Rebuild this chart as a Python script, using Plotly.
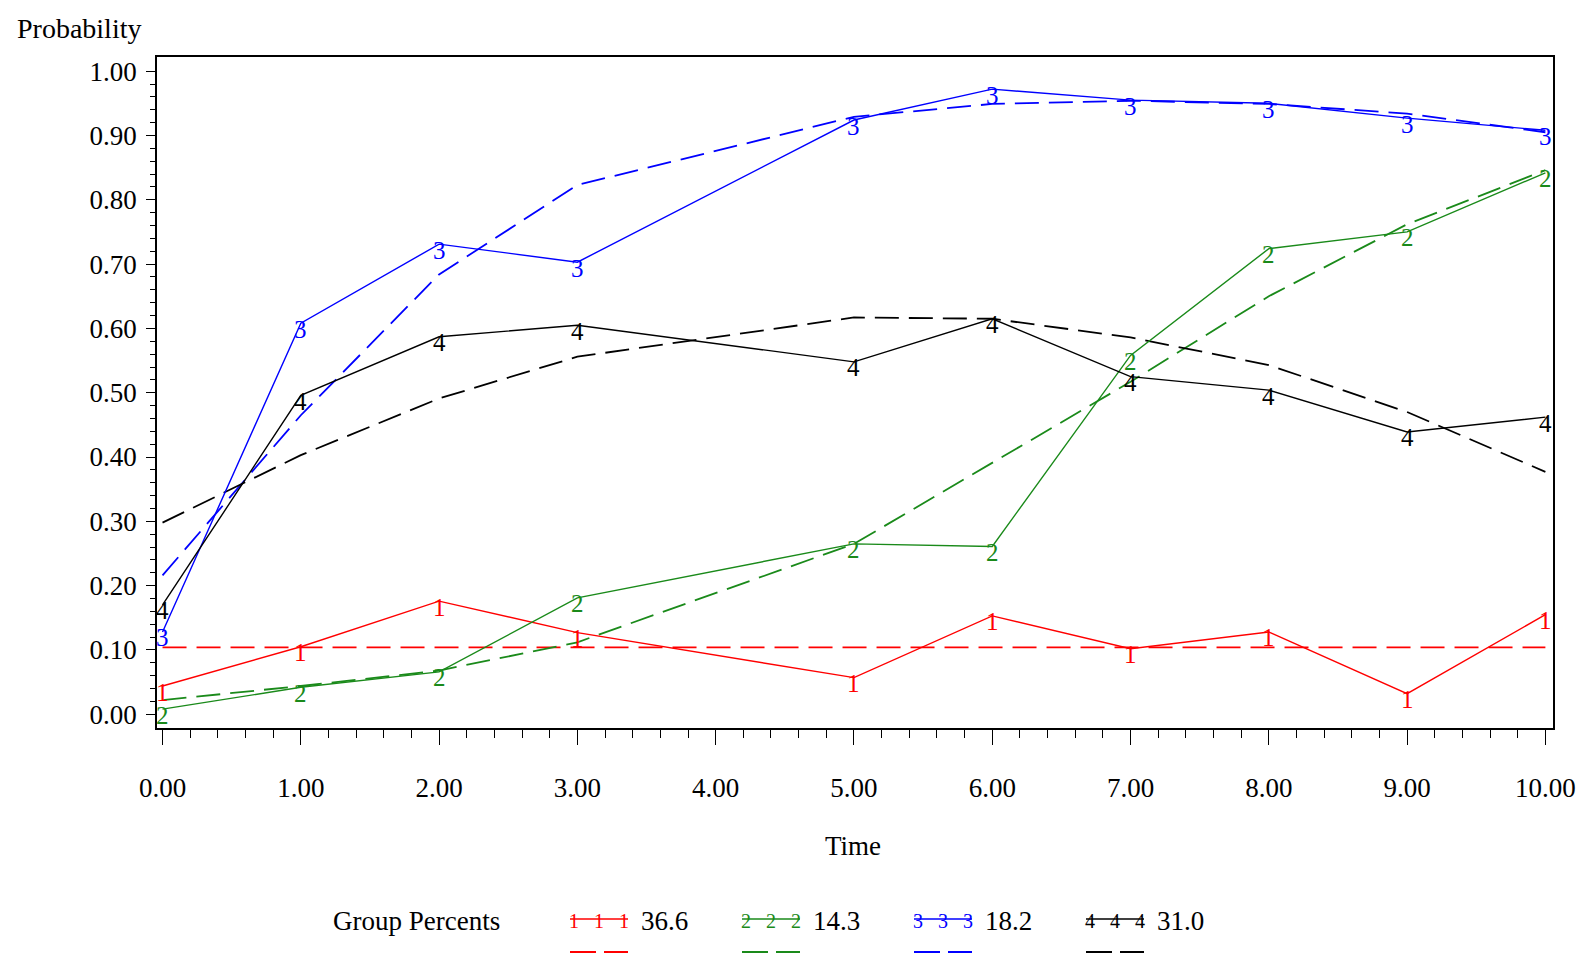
import plotly.graph_objects as go

# ---------------- data ----------------
times = [0, 1, 2, 3, 5, 6, 7, 8, 9, 10]

obs_1 = [0.044, 0.105, 0.176, 0.127, 0.057, 0.153, 0.102, 0.128, 0.032, 0.155]
pred_1 = [0.104, 0.104, 0.104, 0.104, 0.104, 0.104, 0.104, 0.104, 0.104, 0.104]

obs_2 = [0.008, 0.042, 0.066, 0.181, 0.265, 0.261, 0.558, 0.724, 0.750, 0.842]
pred_2 = [0.022, 0.044, 0.068, 0.112, 0.265, 0.391, 0.517, 0.650, 0.762, 0.846]

obs_3 = [0.128, 0.608, 0.731, 0.703, 0.924, 0.972, 0.955, 0.950, 0.927, 0.908]
pred_3 = [0.216, 0.465, 0.684, 0.823, 0.929, 0.949, 0.954, 0.949, 0.934, 0.905]

obs_4 = [0.170, 0.496, 0.587, 0.605, 0.548, 0.615, 0.525, 0.504, 0.439, 0.462]
pred_4 = [0.298, 0.403, 0.491, 0.556, 0.617, 0.615, 0.586, 0.543, 0.470, 0.377]

group_labels = ["1", "2", "3", "4"]
group_percents = ["36.6", "14.3", "18.2", "31.0"]
x_tick_values = [0, 1, 2, 3, 4, 5, 6, 7, 8, 9, 10]
y_tick_values = [0.0, 0.1, 0.2, 0.3, 0.4, 0.5, 0.6, 0.7, 0.8, 0.9, 1.0]

# ---------------- styling ----------------
colors = ["#ff0000", "#1a8a1a", "#0000ff", "#000000"]
FONT = "Liberation Serif, DejaVu Serif, serif"

observed = [obs_1, obs_2, obs_3, obs_4]
predicted = [pred_1, pred_2, pred_3, pred_4]

# page geometry (body margin 8px)
OFF = 8
L, R, T, B = 157, 1553, 57, 728
W, H = 1587, 964
FIG_W = W - 2 * OFF
FIG_H = H - 2 * OFF


def px(xp):
    return (xp - L) / (R - L)


def py(yp):
    return (B - yp) / (B - T)


fig = go.Figure()

for i in range(4):
    fig.add_trace(go.Scatter(
        x=times, y=predicted[i], mode="lines",
        line=dict(color=colors[i], width=1.8, dash="24px,10px"),
        showlegend=False, hoverinfo="skip"))

for i in range(4):
    fig.add_trace(go.Scatter(
        x=times, y=observed[i], mode="lines",
        line=dict(color=colors[i], width=1.4),
        showlegend=False))

annotations = []
# symbol glyphs at each observed point (SAS-style number symbols)
for i in range(4):
    for t, v in zip(times, observed[i]):
        annotations.append(dict(
            text=group_labels[i], x=t, y=v, xref="x", yref="y",
            showarrow=False, xanchor="center", yanchor="middle", yshift=-6,
            font=dict(family=FONT, size=25, color=colors[i])))

annotations += [
    dict(text="Probability", x=px(79), y=py(28), xref="paper", yref="paper",
         showarrow=False, xanchor="center", yanchor="middle",
         font=dict(family=FONT, size=28, color="black")),
    dict(text="Time", x=px(853), y=py(846), xref="paper", yref="paper",
         showarrow=False, xanchor="center", yanchor="middle",
         font=dict(family=FONT, size=27, color="black")),
    dict(text="Group Percents", x=px(331), y=py(921), xref="paper", yref="paper",
         showarrow=False, xanchor="left", yanchor="middle",
         font=dict(family=FONT, size=27, color="black")),
]
shapes = []

leg_x0 = 570
leg_step = 172
leg_len = 58
for i in range(4):
    x0 = leg_x0 + i * leg_step
    x1 = x0 + leg_len
    shapes.append(dict(type="line", xref="paper", yref="paper",
                       x0=px(x0), x1=px(x1), y0=py(919), y1=py(919),
                       line=dict(color=colors[i], width=1.6)))
    shapes.append(dict(type="line", xref="paper", yref="paper",
                       x0=px(x0), x1=px(x1), y0=py(952), y1=py(952),
                       line=dict(color=colors[i], width=2.2, dash="26px,8px")))
    for k in range(3):
        annotations.append(dict(
            text=group_labels[i], x=px(x0 + 4 + k * (leg_len - 8) / 2), y=py(921),
            xref="paper", yref="paper", showarrow=False,
            xanchor="center", yanchor="middle",
            font=dict(family=FONT, size=20, color=colors[i])))
    annotations.append(dict(
        text=group_percents[i], x=px(x1 + 11), y=py(921),
        xref="paper", yref="paper", showarrow=False,
        xanchor="left", yanchor="middle",
        font=dict(family=FONT, size=27, color="black")))

fig.update_layout(
    width=FIG_W, height=FIG_H,
    margin=dict(l=L - OFF, r=(W - OFF) - R, t=T - OFF, b=(H - OFF) - B, pad=0),
    paper_bgcolor="white", plot_bgcolor="white",
    annotations=annotations, shapes=shapes,
    showlegend=False,
)

fig.update_xaxes(
    range=[-0.04, 10.055], tickmode="array", tickvals=x_tick_values,
    tickformat=".2f", ticks="outside", ticklen=15, tickwidth=1.3, tickcolor="black",
    ticklabelstandoff=20, automargin=False,
    minor=dict(tickmode="array",
               tickvals=[t / 5 for t in range(0, 51) if t % 5 != 0],
               ticks="outside", ticklen=8, tickwidth=1.2, tickcolor="black"),
    showline=True, linecolor="black", linewidth=1.6, mirror=True,
    showgrid=False, zeroline=False,
    tickfont=dict(family=FONT, size=27, color="black"),
)

fig.update_yaxes(
    range=[-0.0213, 1.022], tickmode="array", tickvals=y_tick_values,
    tickformat=".2f", ticks="outside", ticklen=9, tickwidth=1.3, tickcolor="black",
    ticklabelstandoff=4, automargin=False,
    minor=dict(tickmode="array",
               tickvals=[t / 50 for t in range(0, 51) if t % 5 != 0],
               ticks="outside", ticklen=5, tickwidth=1.2, tickcolor="black"),
    showline=True, linecolor="black", linewidth=1.6, mirror=True,
    showgrid=False, zeroline=False,
    tickfont=dict(family=FONT, size=27, color="black"),
)

fig.write_html("out.html")
